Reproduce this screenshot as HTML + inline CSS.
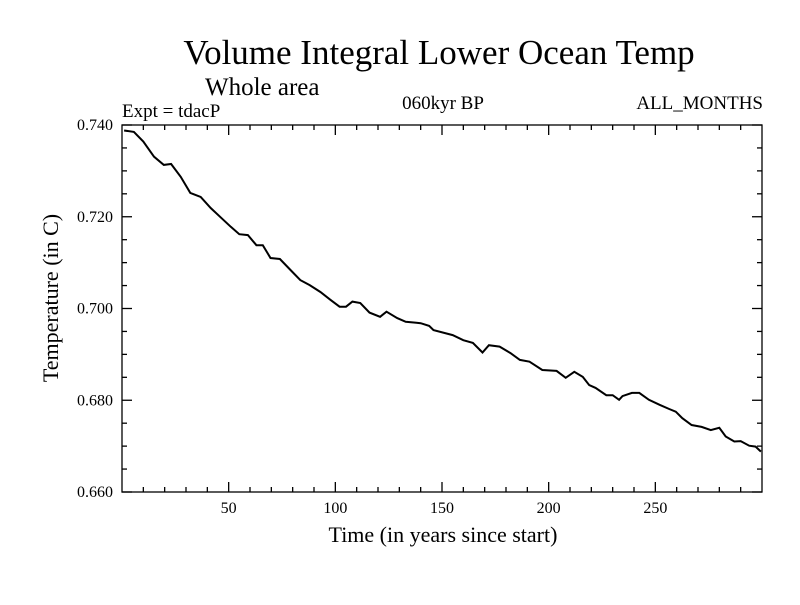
<!DOCTYPE html>
<html><head><meta charset="utf-8"><style>
body{margin:0;background:#fff;}
svg text{font-family:"Liberation Serif",serif;fill:#000;}
</style></head><body>
<svg id="chart" width="800" height="600" xmlns="http://www.w3.org/2000/svg">
<rect width="800" height="600" fill="#fff"/>
<text x="439" y="64" font-size="35" text-anchor="middle">Volume Integral Lower Ocean Temp</text>
<text x="205" y="95" font-size="25">Whole area</text>
<text x="122" y="117" font-size="19">Expt = tdacP</text>
<text x="443" y="109" font-size="19" text-anchor="middle">060kyr BP</text>
<text x="763" y="109" font-size="19" text-anchor="end">ALL_MONTHS</text>
<text x="443" y="542" font-size="22" text-anchor="middle">Time (in years since start)</text>
<text transform="translate(58,298) rotate(-90)" font-size="22" text-anchor="middle">Temperature (in C)</text>
<g id="axes"></g>
<path id="series" fill="none" stroke="#000" stroke-width="2"/>
<rect x="122" y="125" width="640" height="367" fill="none" stroke="#000" stroke-width="1.3"/>
</svg>
<script>
const years = [1,5.6,10,15,19.6,23,27.5,32,36.9,41.6,46,51,55,59,63,66,69.6,74,79,83.6,88,93,97.7,102,105,108,111.7,116,121,124,129,133,138,140,144,146,155,160,164.5,169,172,177,182,186.5,191,197,203.7,208,212,216,219,222,227,230,233,234.6,239,242.5,247,252,256.5,259.6,262.6,267,271.7,276,280,283,287,290,294,297,299.5];
const temps = [0.7388,0.7385,0.7364,0.7331,0.7313,0.7315,0.7287,0.7252,0.7243,0.7219,0.7200,0.7178,0.7162,0.7160,0.7138,0.7138,0.7110,0.7108,0.7084,0.7062,0.7051,0.7036,0.7019,0.7004,0.7004,0.7015,0.7012,0.6991,0.6982,0.6993,0.6979,0.6971,0.6969,0.6968,0.6962,0.6953,0.6942,0.6931,0.6925,0.6904,0.6920,0.6917,0.6903,0.6888,0.6884,0.6866,0.6864,0.6849,0.6862,0.6851,0.6833,0.6827,0.6811,0.6811,0.6801,0.6809,0.6816,0.6816,0.6801,0.6790,0.6781,0.6775,0.6761,0.6746,0.6742,0.6735,0.6740,0.6721,0.6710,0.6711,0.6701,0.6699,0.6688];
const xTickLabels = ["50","100","150","200","250"];
const yTickLabels = ["0.660","0.680","0.700","0.720","0.740"];
const X0=122,X1=762,Y0=125,Y1=492,XMIN=0,XMAX=300,YMIN=0.66,YMAX=0.74;
const sx=v=>X0+(v-XMIN)/(XMAX-XMIN)*(X1-X0);
const sy=v=>Y1-(v-YMIN)/(YMAX-YMIN)*(Y1-Y0);
const NS="http://www.w3.org/2000/svg";
const g=document.getElementById('axes');
function line(x1,y1,x2,y2){const l=document.createElementNS(NS,'line');l.setAttribute('x1',x1);l.setAttribute('y1',y1);l.setAttribute('x2',x2);l.setAttribute('y2',y2);l.setAttribute('stroke','#000');l.setAttribute('stroke-width','1.3');


g.appendChild(l);}
for(let v=10;v<XMAX;v+=10){const x=sx(v);const L=(v%50===0)?10:5;line(x,Y1,x,Y1-L);line(x,Y0,x,Y0+L);}
for(let i=0;i<=16;i++){const v=YMIN+i*0.005;const y=sy(v);const L=(i%4===0)?10:5;line(X0,y,X0+L,y);line(X1,y,X1-L,y);}
xTickLabels.forEach(s=>{const t=document.createElementNS(NS,'text');t.setAttribute('x',sx(+s));t.setAttribute('y',513);t.setAttribute('font-size','16');t.setAttribute('text-anchor','middle');t.textContent=s;


g.appendChild(t);});
yTickLabels.forEach(s=>{const t=document.createElementNS(NS,'text');t.setAttribute('x',113);t.setAttribute('y',sy(+s)+5);t.setAttribute('font-size','16');t.setAttribute('text-anchor','end');t.textContent=s;


g.appendChild(t);});
document.getElementById('series').setAttribute('d',years.map((y,i)=>(i?'L':'M')+sx(y).toFixed(1)+','+sy(temps[i]).toFixed(1)).join(''));
</script>
</body></html>
